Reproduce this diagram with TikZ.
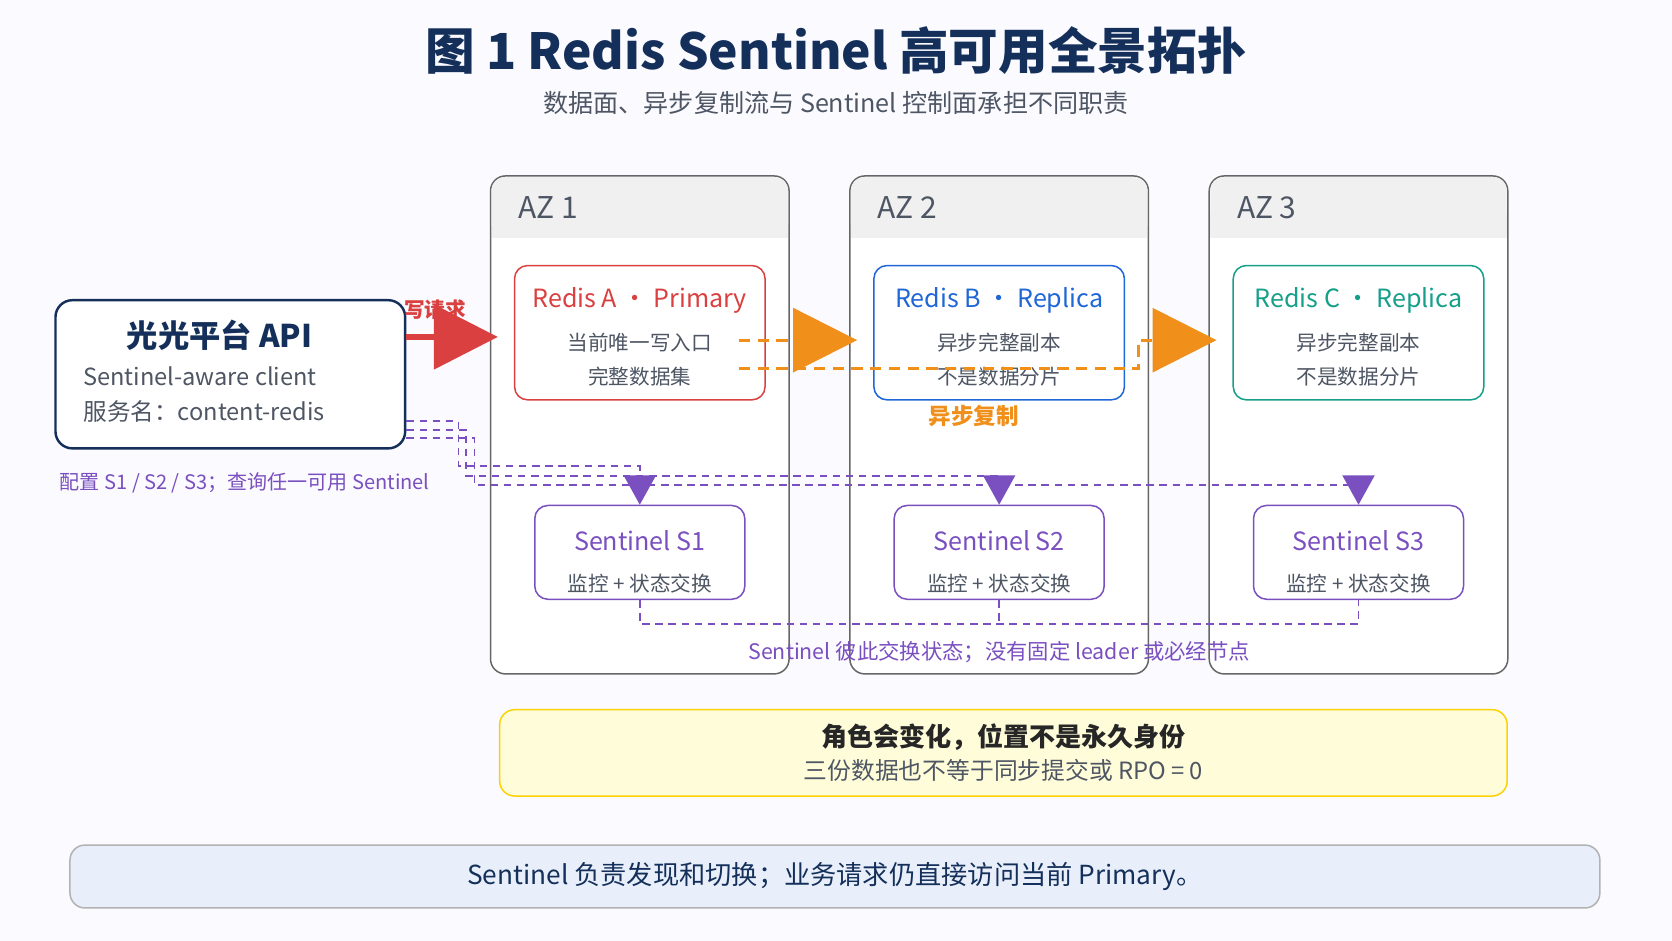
\documentclass[tikz,border=0pt]{standalone}
\usepackage{fontspec}
\setmainfont{Noto Sans CJK SC}
\usetikzlibrary{arrows.meta}
\definecolor{navy}{HTML}{14305A}
\definecolor{rred}{HTML}{D9403F}
\definecolor{rblue}{HTML}{1F66D6}
\definecolor{rteal}{HTML}{16A08A}
\definecolor{rpurp}{HTML}{7A4FC0}
\definecolor{rorg}{HTML}{F0901A}
\definecolor{txtg}{HTML}{4E5664}
\definecolor{footbg}{HTML}{E8EFFA}
\begin{document}
\begin{tikzpicture}[x=0.02cm,y=-0.02cm,
az/.style={
draw=gray!80!black,
thick,
rounded corners=8pt,
fill=white,
},
redis/.style={%
draw=#1,
thick,
rounded corners=7pt,
fill=white,
minimum width=4.7cm,
minimum height=2.52cm,
},
senti/.style={%
draw=rpurp,
thick,
rounded corners=7pt,
fill=white,
minimum width=3.94cm,
minimum height=1.76cm,
},
ttl/.style={
font=\fontsize{13.4}{15}\selectfont,
text=#1,
},
body/.style={
font=\fontsize{11}{13}\selectfont,
text=txtg,
},
rep/.style={%
rorg,
line width=1.6pt,
dash pattern=on 6pt off 4pt,
-{Triangle[length=12mm,width=12mm]},
shorten >=0.3cm,
},
qry/.style={%
rpurp,
line width=1pt,
dash pattern=on 4pt off 3pt,
},
]
\fill[blue!2!white](0,0)rectangle(1568,882);

\node[font=\fontsize{26.5}{30}\selectfont\bfseries,text=navy](title)at(784,47){图 1 Redis Sentinel 高可用全景拓扑};
\node[font=\fontsize{13.4}{15}\selectfont,text=txtg](sub)at(784,97){数据面、异步复制流与 Sentinel 控制面承担不同职责};

%AZ panels
\foreach \x/\n in {460/1,797/2,1134/3}{
\draw[az](\x,165)rectangle(\x+280,632);
\fill[gray!12,rounded corners=7pt](\x+1,166)rectangle(\x+279,223);
\fill[gray!12](\x+1,200)rectangle(\x+279,223);
\node[anchor=west,font=\fontsize{16}{18}\selectfont,text=txtg](az\n)at(\x+20,195){AZ \n};
}

%Redis nodes
\node[redis=rred](ra)at(600,312){};
\node[ttl=rred]at(600,282){Redis A · Primary};
\node[body]at(600,321){当前唯一写入口};
\node[body]at(600,353){完整数据集};

\node[redis=rblue](rb)at(937,312){};
\node[ttl=rblue]at(937,282){Redis B · Replica};
\node[body]at(937,321){异步完整副本};
\node[body]at(937,353){不是数据分片};

\node[redis=rteal](rc)at(1274,312){};
\node[ttl=rteal]at(1274,282){Redis C · Replica};
\node[body]at(1274,321){异步完整副本};
\node[body]at(1274,353){不是数据分片};

%Sentinels
\foreach \x/\n in {600/1,937/2,1274/3}{
\node[senti](s\n)at(\x,518){};
\node[ttl=rpurp]at(\x,507){Sentinel S\n};
\node[body]at(\x,547){监控 + 状态交换};
}

%client
\node[draw=navy,line width=1.3pt,rounded corners=9pt,fill=white,minimum width=6.56cm,minimum height=2.78cm](api)at(216,351){};
\node[font=\fontsize{16.7}{19}\selectfont\bfseries,text=navy]at(206,314){光光平台 API};
\node[body,anchor=west,font=\fontsize{12.6}{14}\selectfont]at(72,353){Sentinel-aware client};
\node[body,anchor=west,font=\fontsize{12.6}{14}\selectfont]at(72,386){服务名：content-redis};

%write
\draw[rred,line width=3pt,-{Triangle[length=12mm,width=12mm]},shorten >=0.3cm](api.east|-0,316)--(ra.west|-0,316);
\node[text=rred,font=\fontsize{11}{13}\selectfont\bfseries]at(408,290){写请求};

%replication
\coordinate(rp1)at(693,319);
\coordinate(rp2)at(693,346);
\draw[rep](rp1)--(rb.west|-rp1);
\draw[rep](rp2)--(1068,346)--(1068,319)--(rc.west|-rp1);
\node[text=rorg,font=\fontsize{12}{14}\selectfont\bfseries]at(913,390){异步复制};

%discovery
\draw[qry,-{Triangle[length=5.5mm,width=6mm]}](api.east|-0,395)--(430,395)--(430,437)--(600,437)--(s1.north);
\draw[qry,-{Triangle[length=5.5mm,width=6mm]}](api.east|-0,403)--(437,403)--(437,446)--(937,446)--(s2.north);
\draw[qry,-{Triangle[length=5.5mm,width=6mm]}](api.east|-0,411)--(445,411)--(445,455)--(1274,455)--(s3.north);
\node[text=rpurp,anchor=west,font=\fontsize{10.7}{12}\selectfont]at(50,453){配置 S1 / S2 / S3；查询任一可用 Sentinel};

%gossip
\draw[qry](s1.south)--(600,585)--(1274,585)--(s3.south);
\draw[qry](s2.south)--(937,585);
\node[text=rpurp,font=\fontsize{11.4}{13}\selectfont]at(937,612){Sentinel 彼此交换状态；没有固定 leader 或必经节点};

%notes
\node[draw=yellow!70!orange,thick,fill=yellow!15,rounded corners=8pt,minimum width=18.9cm,minimum height=1.62cm](note)at(941,706){};
\node[font=\fontsize{13.9}{16}\selectfont\bfseries,text=black!85]at(941,691){角色会变化，位置不是永久身份};
\node[body,font=\fontsize{12.7}{14}\selectfont]at(941,722){三份数据也不等于同步提交或 RPO = 0};

\node[draw=gray!60,thick,fill=footbg,rounded corners=8pt,minimum width=28.7cm,minimum height=1.18cm](foot)at(783,822){};
\node[font=\fontsize{14}{16}\selectfont,text=navy]at(783,822){Sentinel 负责发现和切换；业务请求仍直接访问当前 Primary。};
\end{tikzpicture}
\end{document}
